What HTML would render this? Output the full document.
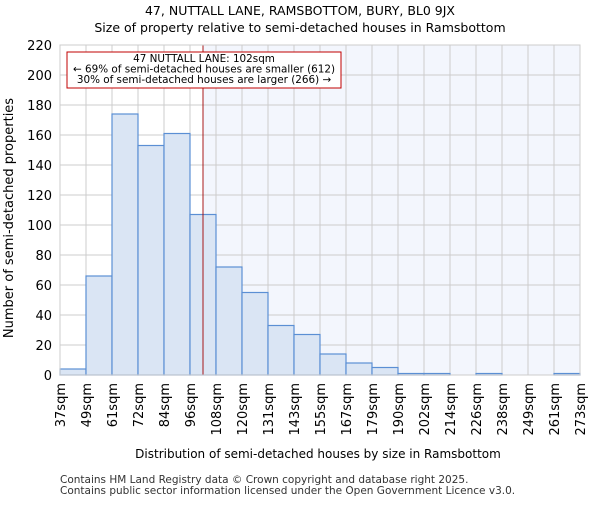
<!DOCTYPE html>
<html><head><meta charset="utf-8"><style>body{margin:0;background:#fff}svg{font-family:"DejaVu Sans","Liberation Sans",sans-serif}</style></head>
<body>
<svg id="c" width="600" height="500">
<text x="300" y="15" text-anchor="middle" font-size="12.5">47, NUTTALL LANE, RAMSBOTTOM, BURY, BL0 9JX</text>
<text x="300" y="32" text-anchor="middle" font-size="12.5">Size of property relative to semi-detached houses in Ramsbottom</text>
<g id="plot"></g>
<text x="318" y="458" text-anchor="middle" font-size="12">Distribution of semi-detached houses by size in Ramsbottom</text>
<text transform="translate(13,218) rotate(-90)" text-anchor="middle" font-size="13">Number of semi-detached properties</text>
<text x="60" y="483" font-size="10.5" fill="#333">Contains HM Land Registry data © Crown copyright and database right 2025.</text>
<text x="60" y="494" font-size="10.5" fill="#333">Contains public sector information licensed under the Open Government Licence v3.0.</text>
</svg>
<script>
const binLabels=["37sqm","49sqm","61sqm","72sqm","84sqm","96sqm","108sqm","120sqm","131sqm","143sqm","155sqm","167sqm","179sqm","190sqm","202sqm","214sqm","226sqm","238sqm","249sqm","261sqm","273sqm"];
const counts=[4,66,174,153,161,107,72,55,33,27,14,8,5,1,1,0,1,0,0,1];
const yTicks=[0,20,40,60,80,100,120,140,160,180,200,220];
const propertyBin=5.5;
const NS="http://www.w3.org/2000/svg";
const g=document.getElementById('plot');
const x0=60,x1=580,y0=375,y1=45,yMax=220;
const bw=(x1-x0)/counts.length;
const X=i=>x0+i*bw, Y=v=>y0-(v/yMax)*(y0-y1);
function mk(t,a,p){const e=document.createElementNS(NS,t);for(const k in a)e.setAttribute(k,a[k]);(p||g).appendChild(e);return e;}
const px=X(propertyBin);
let e=mk('rect',{x:px,y:y1,width:x1-px,height:y0-y1,fill:'#f3f6fd'});


yTicks.forEach(t=>{let l=mk('line',{x1:x0,x2:x1,y1:Y(t),y2:Y(t),stroke:'#cccccc'});


let tx=mk('text',{x:x0-8,y:Y(t)+5,'text-anchor':'end','font-size':'13'});tx.textContent=t;

});
binLabels.forEach((b,i)=>{let l=mk('line',{x1:X(i),x2:X(i),y1:y1,y2:y0,stroke:'#cccccc'});


let tx=mk('text',{transform:`translate(${X(i)+5},${y0+8}) rotate(-90)`,'text-anchor':'end','font-size':'13'});tx.textContent=b;

});
counts.forEach((c,i)=>{if(c<=0)return;let r=mk('rect',{x:X(i),y:Y(c),width:bw,height:y0-Y(c),fill:'#dae5f4',stroke:'#5b8fd4','stroke-width':1.2});

});
e=mk('line',{x1:px,x2:px,y1:y1,y2:y0,stroke:'#a00000','stroke-width':0.9});


e=mk('rect',{x:67,y:52,width:274,height:36,fill:'#fff',stroke:'#c00000','stroke-width':1});


["47 NUTTALL LANE: 102sqm","← 69% of semi-detached houses are smaller (612)","30% of semi-detached houses are larger (266) →"].forEach((s,i)=>{let t=mk('text',{x:204,y:62+i*10.5,'text-anchor':'middle','font-size':'10.4'});t.textContent=s;

});
e=mk('rect',{x:x0,y:y1,width:x1-x0,height:y0-y1,fill:'none',stroke:'#cccccc'});


</script>
</body></html>
